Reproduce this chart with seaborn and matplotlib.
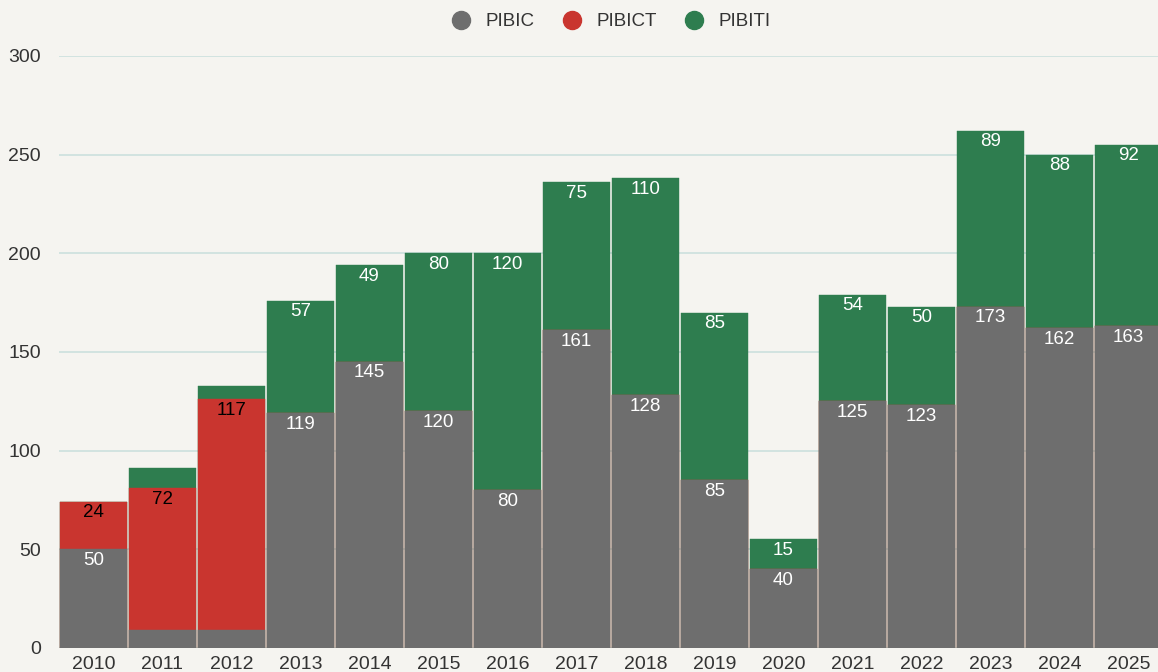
import matplotlib
matplotlib.use("Agg")
import matplotlib.pyplot as plt
from matplotlib.lines import Line2D
import seaborn as sns
import pandas as pd
import numpy as np

years = ["2010", "2011", "2012", "2013", "2014", "2015", "2016", "2017",
         "2018", "2019", "2020", "2021", "2022", "2023", "2024", "2025"]
pibic = [50, 9, 9, 119, 145, 120, 80, 161, 128, 85, 40, 125, 123, 173, 162, 163]
pibict = [24, 72, 117, 0, 0, 0, 0, 0, 0, 0, 0, 0, 0, 0, 0, 0]
pibiti = [0, 10, 7, 57, 49, 80, 120, 75, 110, 85, 15, 54, 50, 89, 88, 92]
series_names = ["PIBIC", "PIBICT", "PIBITI"]

BG = "#f5f4f0"
C_GREY = "#6e6e6e"
C_RED = "#c9352f"
C_GREEN = "#2e7d4f"

sns.set_theme(style="white")
plt.rcParams["font.family"] = ["Liberation Sans", "DejaVu Sans"]

df = pd.DataFrame({"year": years, "PIBIC": pibic, "PIBICT": pibict, "PIBITI": pibiti})
df["c1"] = df["PIBIC"]
df["c2"] = df["c1"] + df["PIBICT"]
df["c3"] = df["c2"] + df["PIBITI"]

fig = plt.figure(figsize=(11.58, 6.72), dpi=100, facecolor=BG)
ax = fig.add_axes([59 / 1158, 24 / 672, 1104 / 1158, 592 / 672])
ax.set_facecolor(BG)

for col, color in [("c3", C_GREEN), ("c2", C_RED), ("c1", C_GREY)]:
    sns.barplot(data=df, x="year", y=col, color=color, width=0.985,
                saturation=1, edgecolor=color, linewidth=0.3, ax=ax, zorder=3)

ax.set_ylim(0, 300)
ax.set_xlim(-0.5, 15.5)
ax.set_yticks([0, 50, 100, 150, 200, 250, 300])
ax.yaxis.grid(True, color="#cfe2df", linewidth=1.3, zorder=0)
ax.set_axisbelow(True)
for s in ax.spines.values():
    s.set_visible(False)
ax.set_xlabel("")
ax.set_ylabel("")
ax.tick_params(axis="y", labelsize=14, colors="#333333", pad=13, length=0)
ax.tick_params(axis="x", labelsize=14, colors="#333333", pad=6, length=0)

# value labels
off = 11 * 300 / 592
for i in range(len(years)):
    segs = [(pibic[i], df["c1"][i], "white"),
            (pibict[i], df["c2"][i], "black"),
            (pibiti[i], df["c3"][i], "white")]
    for val, top, tc in segs:
        if val >= 12:
            ax.text(i, top - off, str(val), ha="center", va="center",
                    color=tc, fontsize=13.5, zorder=5)

handles = [Line2D([0], [0], marker="o", linestyle="", markersize=13,
                  markerfacecolor=c, markeredgecolor=c)
           for c in [C_GREY, C_RED, C_GREEN]]
fig.legend(handles, series_names, loc="center", bbox_to_anchor=(0.524, 0.968),
           ncol=3, frameon=False, fontsize=13.5, handletextpad=0.3,
           columnspacing=1.0, labelcolor="#333333")

fig.savefig("out.png", dpi=100, facecolor=BG)
